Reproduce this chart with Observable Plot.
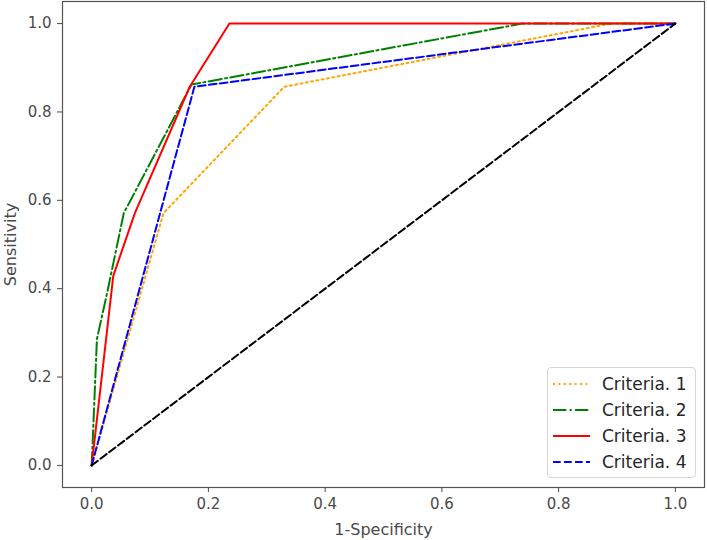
<!DOCTYPE html>
<html>
<head>
<meta charset="utf-8">
<script src="https://cdn.jsdelivr.net/npm/d3@7"></script>
<script src="https://cdn.jsdelivr.net/npm/@observablehq/plot@0.6"></script>
<style>
  html, body { margin: 0; padding: 0; background: #fff; }
  #wrap { position: relative; width: 707px; height: 540px; font-family: "DejaVu Sans", sans-serif; }
  #wrap svg g[aria-label$="tick label"] { font-size: 15px !important; }
  #wrap svg g[aria-label$="-axis label"] { font-size: 16px !important; }
  #legend { position: absolute; left: 547px; top: 367px; width: 149px; height: 111px; box-sizing: border-box;
    border: 1px solid #d6d6d6; border-radius: 4px; background: rgba(255,255,255,0.8); }
  .row { position: absolute; left: 0; height: 20px; display: flex; align-items: center; }
  .row svg { margin-left: 4px; }
  .row span { margin-left: 12px; font-size: 17px; color: #262626; }
</style>
</head>
<body>
<div id="wrap"></div>
<script>
// ROC data
const fpr1 = [0, 0.123, 0.33, 0.89, 1];
const tpr1 = [0, 0.571, 0.857, 1, 1];
const fpr2 = [0, 0.009, 0.028, 0.055, 0.171, 0.738, 1];
const tpr2 = [0, 0.286, 0.40, 0.571, 0.862, 1, 1];
const fpr3 = [0, 0.037, 0.074, 0.168, 0.236, 1];
const tpr3 = [0, 0.429, 0.571, 0.857, 1, 1];
const fpr4 = [0, 0.176, 1];
const tpr4 = [0, 0.857, 1];
const diagX = [0, 1];
const diagY = [0, 1];
const seriesNames = ["Criteria. 1", "Criteria. 2", "Criteria. 3", "Criteria. 4"];
const seriesColors = ["orange", "green", "red", "blue"];
const seriesDash = ["2,3.4", "13.3,3.3,2.1,3.3", "none", "7.7,3.3"];
const ticks = [0, 0.2, 0.4, 0.6, 0.8, 1.0];

const toPts = (xs, ys) => xs.map((x, i) => ({x, y: ys[i]}));
const series = [toPts(fpr1, tpr1), toPts(fpr2, tpr2), toPts(fpr3, tpr3), toPts(fpr4, tpr4)];

const axisColor = "#4a4a4a";
const marks = [];
series.forEach((d, i) => {
  marks.push(Plot.line(d, {x: "x", y: "y", stroke: seriesColors[i], strokeWidth: 2,
    strokeDasharray: seriesDash[i] === "none" ? undefined : seriesDash[i]}));
});
marks.push(Plot.line(toPts(diagX, diagY), {x: "x", y: "y", stroke: "black", strokeWidth: 2, strokeDasharray: "7.7,3.3"}));
marks.push(Plot.frame({stroke: "#555", strokeWidth: 1.2}));
marks.push(Plot.axisX({ticks, tickFormat: d3.format(".1f"), tickSize: 5, color: axisColor,
  tickPadding: 6, label: "1-Specificity", labelAnchor: "center", labelArrow: "none", labelOffset: 47}));
marks.push(Plot.axisY({ticks, tickFormat: d3.format(".1f"), tickSize: 5, color: axisColor,
  tickPadding: 6, label: "Sensitivity", labelAnchor: "center", labelArrow: "none", labelOffset: 58}));

const chart = Plot.plot({
  width: 707, height: 540,
  marginLeft: 62, marginRight: 3, marginTop: 1, marginBottom: 53,
  style: {fontFamily: "DejaVu Sans, sans-serif", background: "white", overflow: "visible"},
  x: {domain: [-0.05, 1.05]},
  y: {domain: [-0.05, 1.05]},
  marks
});
const wrap = document.getElementById("wrap");
wrap.appendChild(chart);

// legend
const legend = document.createElement("div");
legend.id = "legend";
seriesNames.forEach((name, i) => {
  const row = document.createElement("div");
  row.className = "row";
  row.style.top = (6 + i * 26) + "px";
  const dash = seriesDash[i] === "none" ? "" : `stroke-dasharray="${seriesDash[i]}"`;
  row.innerHTML = `<svg width="38" height="10"><line x1="1" y1="5" x2="38" y2="5" stroke="${seriesColors[i]}" stroke-width="2" ${dash}/></svg><span>${name}</span>`;
  legend.appendChild(row);
});
wrap.appendChild(legend);
</script>
</body>
</html>
